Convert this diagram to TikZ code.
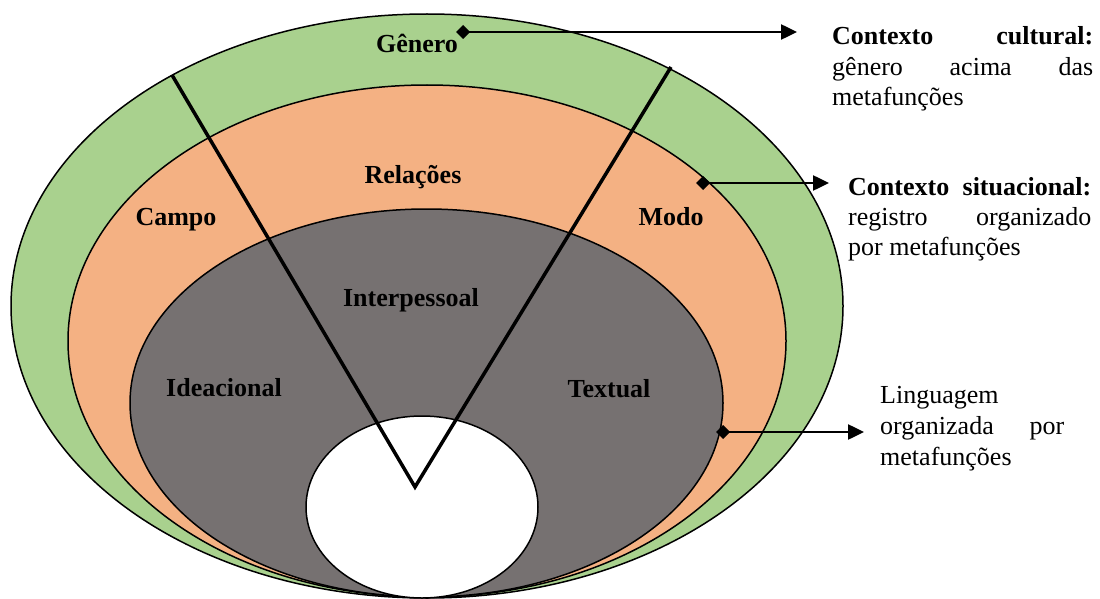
\documentclass[tikz,border=0pt]{standalone}
\usepackage{fontspec}
\setmainfont{Liberation Serif}
\usetikzlibrary{arrows.meta}
\definecolor{ringgreen}{HTML}{A9D18E}
\definecolor{ringorange}{HTML}{F4B183}
\definecolor{ringgray}{HTML}{767171}
\begin{document}
\begin{tikzpicture}[x=1pt,y=-1pt,
  ring/.style={draw=black,line width=1.5pt},
  vline/.style={draw=black,line width=3.5pt,line join=miter},
  conn/.style={draw=black,line width=2.5pt,{Diamond[length=14pt,width=14pt]}-{Triangle[length=16pt,width=15pt]}},
  lbl/.style={font=\fontsize{26}{30}\selectfont\bfseries,inner sep=0pt,anchor=base},
  txt/.style={font=\fontsize{26}{30}\selectfont,inner sep=0pt,anchor=base west}]
\useasboundingbox (0,0) rectangle (1100,599);
% rings
\path[ring,fill=ringgreen] (427,306) ellipse [x radius=416pt,y radius=292pt];
\path[ring,fill=ringorange] (427,341) ellipse [x radius=359pt,y radius=256pt];
\path[ring,fill=ringgray] (426.5,403) ellipse [x radius=296.5pt,y radius=194pt];
\path[ring,fill=white] (422,507) ellipse [x radius=116pt,y radius=91pt];
% V lines
\coordinate (vl) at (172,75);
\coordinate (vv) at (415,487);
\coordinate (vr) at (671,67);
\draw[vline] (vl) -- (vv) -- (vr);
% labels
\node[lbl] (genero) at (417,53) {Gênero};
\node[lbl] (relacoes) at (413,183) {Relações};
\node[lbl] (campo) at (176,225) {Campo};
\node[lbl] (modo) at (671,225) {Modo};
\node[lbl] (interp) at (411,306) {Interpessoal};
\node[lbl] (ideac) at (224,396) {Ideacional};
\node[lbl] (textual) at (609,397) {Textual};
% side texts
\node[txt] (t1a) at (832,45) {\makebox[261pt][s]{\bfseries Contexto cultural:}};
\node[txt] (t1b) at (832,75.5) {\makebox[261pt][s]{gênero acima das}};
\node[txt] (t1c) at (832,106) {metafunções};
\node[txt] (t2a) at (848,195) {\makebox[243pt][s]{\bfseries Contexto situacional:}};
\node[txt] (t2b) at (848,225) {\makebox[243pt][s]{registro organizado}};
\node[txt] (t2c) at (848,255) {por metafunções};
\node[txt] (t3a) at (880,403) {Linguagem};
\node[txt] (t3b) at (880,434) {\makebox[184pt][s]{organizada por}};
\node[txt] (t3c) at (880,465) {metafunções};
% connectors
\coordinate (c1s) at (456,32);
\coordinate (c1e) at (797,32);
\coordinate (c2s) at (696,183);
\coordinate (c2e) at (829,183);
\coordinate (c3s) at (716,432);
\coordinate (c3e) at (864,432);
\draw[conn] (c1s) -- (c1e);
\draw[conn] (c2s) -- (c2e);
\draw[conn] (c3s) -- (c3e);
\end{tikzpicture}
\end{document}
